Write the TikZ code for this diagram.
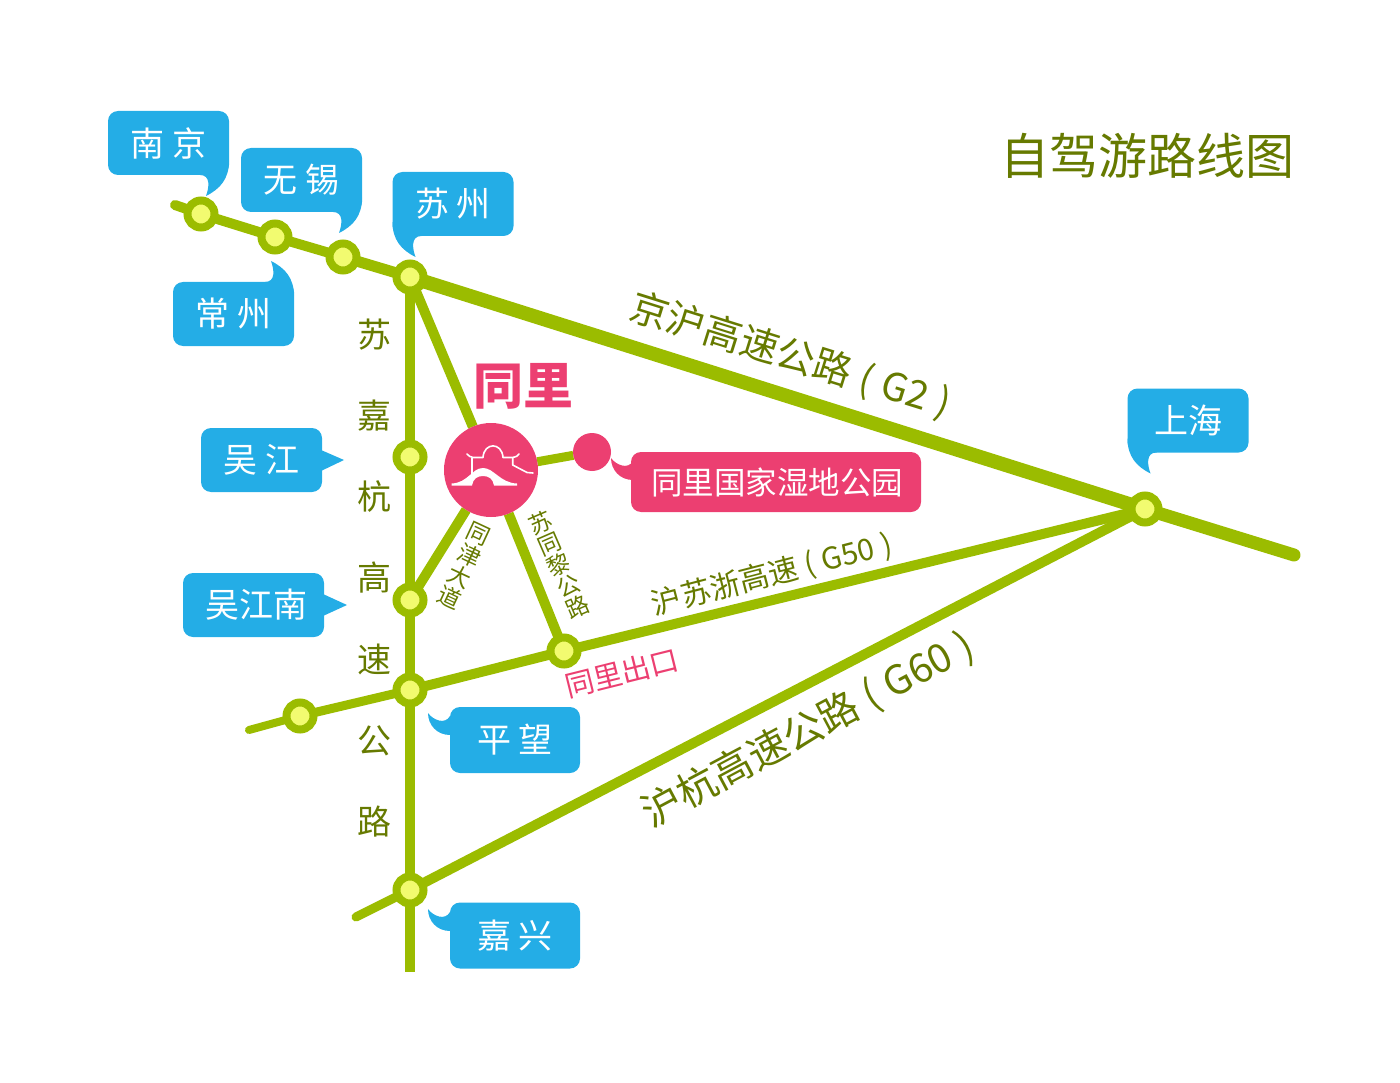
\documentclass[tikz,border=0pt]{standalone}
\usepackage{fontspec}
\setmainfont{Noto Sans CJK SC}
\usetikzlibrary{backgrounds}
\definecolor{road}{HTML}{9BBC00}
\definecolor{stopin}{HTML}{F2FB70}
\definecolor{cyanbox}{HTML}{24ADE6}
\definecolor{pinkbox}{HTML}{EC3F71}
\definecolor{olive}{HTML}{667A00}
\newcommand{\fs}[1]{\fontsize{#1}{#1}\selectfont}
\newcommand{\tailtop}[3]{\fill[#3,shift={(#1,#2)}] (0,-14) .. controls (0,4) and (-9,14) .. (-23,21) .. controls (-20,13) and (-18,0) .. (-29,0) -- (-29,-12) -- cycle;}
\newcommand{\tailtopL}[3]{\fill[#3,shift={(#1,#2)}] (0,-14) .. controls (0,4) and (9,14) .. (23,21) .. controls (20,13) and (18,0) .. (29,0) -- (29,-12) -- cycle;}
\newcommand{\tailup}[3]{\fill[#3,shift={(#1,#2)}] (0,14) .. controls (0,-4) and (-9,-14) .. (-23,-21) .. controls (-20,-13) and (-18,0) .. (-29,0) -- (-29,12) -- cycle;}
\newcommand{\tailside}[3]{\fill[#3,shift={(#1,#2)}] (2,28) -- (0,28) .. controls (-13,28) and (-22,18) .. (-22,6) .. controls (-17,13) and (-5,18) .. (0,9) -- (2,9) -- cycle;}
\newcommand{\gp}{\hspace{0.25em}}
\tikzset{
  x=1pt,y=-1pt,
  stn/.style={circle,draw=road,fill=stopin,line width=8pt,minimum size=27pt,inner sep=0pt,outer sep=0pt},
  rd/.style={draw=road,line width=#1},
  callout/.style={fill=cyanbox,text=white,rounded corners=10pt,minimum width=121pt,minimum height=64pt,inner sep=0pt,font=\fs{34}},
  roadlabel/.style={text=olive,inner sep=0pt},
  stack/.style={text=olive,inner sep=0pt,align=center}
}
\begin{document}
\begin{tikzpicture}
\useasboundingbox (0,0) rectangle (1400,1083);
% stations
\node[stn] (nj) at (201,214) {};
\node[stn] (cz) at (275,237) {};
\node[stn] (wx) at (343,257) {};
\node[stn] (sz) at (410,277) {};
\node[stn] (wj) at (410,457) {};
\node[stn] (wjn) at (410,600) {};
\node[stn] (pw) at (410,690) {};
\node[stn] (jx) at (410,890) {};
\node[stn] (ex) at (564,651) {};
\node[stn] (sh) at (1145,509) {};
\node[stn] (lf) at (300,716) {};
\node[circle,fill=pinkbox,minimum size=94pt,inner sep=0pt,outer sep=0pt] (tl) at (491,470) {};
\node[circle,fill=pinkbox,minimum size=38pt,inner sep=0pt,outer sep=0pt] (dot) at (592,452) {};
\coordinate (g2l) at (175,205);
\coordinate (g2r) at (1294,555);
\coordinate (g50l) at (249,730);
\coordinate (g60l) at (356,917);
\coordinate (sjb) at (410,972);
\begin{scope}[on background layer]
\draw[rd=10pt,line cap=round] (g2l) -- (nj);
\draw[rd=10pt] (nj) -- (cz);
\draw[rd=10pt] (cz) -- (wx);
\draw[rd=11pt] (wx) -- (sz);
\draw[rd=14pt] (sz) -- (sh);
\draw[rd=13pt,line cap=round] (sh) -- (g2r);
\draw[rd=10pt] (sz) -- (wj);
\draw[rd=10pt] (wj) -- (wjn);
\draw[rd=10pt] (wjn) -- (pw);
\draw[rd=10pt] (pw) -- (jx);
\draw[rd=10pt] (jx) -- (sjb);
\draw[rd=10pt] (ex) -- (sh);
\draw[rd=10pt] (pw) -- (ex);
\draw[rd=9pt] (lf) -- (pw);
\draw[rd=8pt,line cap=round] (g50l) -- (lf);
\draw[rd=10pt] (jx) -- (sh);
\draw[rd=9pt,line cap=round] (g60l) -- (jx);
\draw[rd=10pt] (sz) -- (tl);
\draw[rd=10pt] (tl) -- (wjn);
\draw[rd=10pt] (tl) -- (ex);
\draw[rd=9pt] (tl) -- (dot);
\end{scope}
% tails
\tailtop{229}{175}{cyanbox}
\tailtop{362}{212}{cyanbox}
\tailup{294}{282}{cyanbox}
\tailtopL{392.5}{236}{cyanbox}
\tailtopL{1127.5}{452.5}{cyanbox}
\tailside{450}{707}{cyanbox}
\tailside{450}{903}{cyanbox}
\tailside{633}{452}{pinkbox}
\fill[cyanbox] (321,450) -- (344,460) -- (321,471) -- cycle;
\fill[cyanbox] (323,594) -- (347,605) -- (323,616) -- cycle;
% callouts
\node[callout] (bnj) at (168.5,143) {南 京};
\node[callout] (bwx) at (301.5,180) {无 锡};
\node[callout] (bcz) at (233.5,314) {常 州};
\node[callout] (bsz) at (453,204) {苏 州};
\node[callout] (bsh) at (1188,420.5) {上海};
\node[callout] (bwj) at (261.5,460) {吴 江};
\node[callout,minimum width=141pt] (bwn) at (253.5,605) {\hspace*{5pt}吴江南};
\node[callout,minimum width=130pt,minimum height=66pt] (bpw) at (515,740) {平 望};
\node[callout,minimum width=130pt,minimum height=66pt] (bjx) at (515,935.5) {嘉 兴};
\node[callout,fill=pinkbox,minimum width=290pt,minimum height=60pt,font=\fs{31.5}] (btl) at (776,482) {\hspace*{2pt}同里国家湿地公园};
% titles
\node[roadlabel,font=\fs{49}] (title) at (1147.5,156) {自驾游路线图};
\node[inner sep=0pt,text=pinkbox,font=\fs{50}\bfseries] (tname) at (523,386) {同里};
\node[stack,font=\fontsize{34}{81.2}\selectfont] (sjh) at (374,578) {苏\\嘉\\杭\\高\\速\\公\\路};
\node[roadlabel,rotate=-17.4,font=\fs{38.5}] (lg2) at (790,356) {京沪高速公路\gp(\gp G2\gp)};
\node[roadlabel,rotate=14.5,font=\fs{30}] (lg50) at (772,575) {沪苏浙高速\gp(\gp G50\gp)};
\node[roadlabel,rotate=28,font=\fs{40}] (lg60) at (808,730) {沪杭高速公路\gp(\gp G60\gp)};
\node[inner sep=0pt,text=pinkbox,rotate=14,font=\fs{29}] (lex) at (622,673) {同里出口};
\node[stack,rotate=-25,font=\fontsize{23}{23.4}\selectfont] (ltj) at (464,566) {同\\津\\大\\道};
\node[stack,rotate=23.5,font=\fontsize{23}{23}\selectfont] (ltl) at (559,565) {苏\\同\\黎\\公\\路};
% bridge icon
\fill[white] (451.5,483.5) .. controls (468,483) and (472,468) .. (483,468) .. controls (494,468) and (500,483) .. (517,483.5) -- (517,485.5) -- (494,485.5) .. controls (493,479) and (489,476) .. (483,476) .. controls (477,476) and (473,479) .. (472,485.5) -- (451.5,485.5) -- cycle;
\draw[white,line width=1.6pt,line cap=round,line join=round] (467,454) .. controls (469,456) and (470,457) .. (473,457.5) -- (483,457.5) .. controls (484,442) and (502,442) .. (503,457.5) -- (512,457.5) .. controls (516,457) and (518,456) .. (519,454);
\draw[white,line width=1.6pt,line cap=round,line join=round] (471.7,458) -- (471.7,477);
\draw[white,line width=1.6pt,line cap=round,line join=round] (512.7,458) -- (512.7,465) -- (527,472.5) -- (533,473);
\end{tikzpicture}
\end{document}
